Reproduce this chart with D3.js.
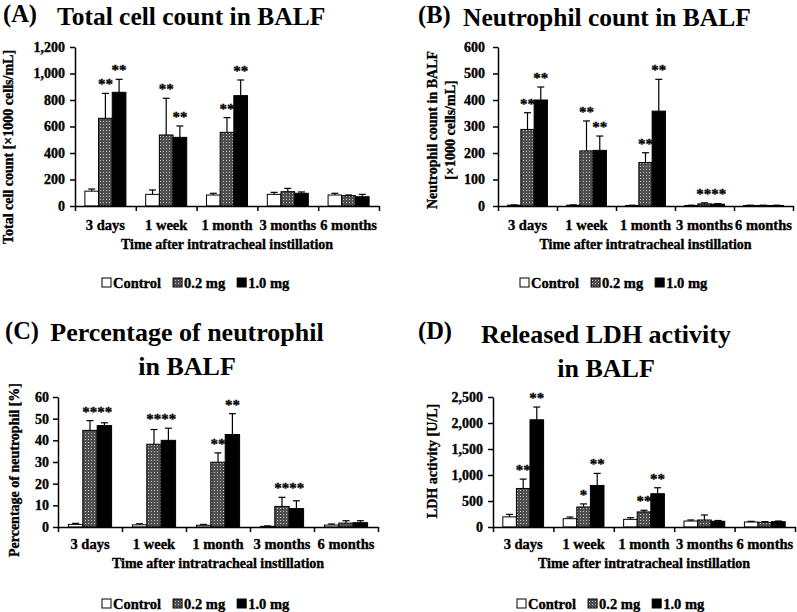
<!DOCTYPE html>
<html><head><meta charset="utf-8">
<script src="https://cdn.jsdelivr.net/npm/d3@7/dist/d3.min.js"></script>
<style>
html,body{margin:0;padding:0;background:#fff;}
svg{display:block;font-family:"Liberation Serif","Times New Roman",serif;font-weight:bold;}
svg text{fill:#000;}
.heavy{stroke:#000;stroke-width:0.35px;}
</style></head>
<body><svg id="chart" width="797" height="612"></svg>
<script>
// ---------- data ----------
const categories = ["3 days", "1 week", "1 month", "3 months", "6 months"];
const seriesNames = ["Control", "0.2 mg", "1.0 mg"];

// (A) Total cell count [x1000 cells/mL]
const totalControl = [112, 88, 83, 88, 83];
const totalControlSD = [16, 33, 13, 15, 13];
const total02 = [662, 536, 556, 108, 78];
const total02SD = [188, 277, 111, 25, 5];
const total10 = [858, 518, 833, 96, 70];
const total10SD = [98, 86, 118, 10, 18];
const totalStars02 = ["**", "**", "**", "", ""];
const totalStars10 = ["**", "**", "**", "", ""];
const totalTicks = [0, 200, 400, 600, 800, 1000, 1200];

// (B) Neutrophil count [x1000 cells/mL]
const neutroControl = [3, 3, 2, 2, 2];
const neutroControlSD = [1, 1, 1, 1, 1];
const neutro02 = [289, 208, 164, 8, 2];
const neutro02SD = [63, 113, 37, 4, 1];
const neutro10 = [400, 210, 358, 7, 2];
const neutro10SD = [49, 54, 120, 2, 1];
const neutroStars02 = ["**", "**", "**", "**", ""];
const neutroStars10 = ["**", "**", "**", "**", ""];
const neutroTicks = [0, 100, 200, 300, 400, 500, 600];

// (C) Percentage of neutrophil [%]
const pctControl = [1.2, 1.0, 0.8, 0.3, 0.9];
const pctControlSD = [0.5, 0.5, 0.4, 0.2, 0.5];
const pct02 = [44.6, 38.2, 29.9, 9.5, 1.8];
const pct02SD = [4.5, 6.8, 4.3, 4.2, 1.1];
const pct10 = [46.8, 40.0, 42.7, 8.5, 2.0];
const pct10SD = [1.3, 5.6, 9.6, 3.6, 0.9];
const pctStars02 = ["**", "**", "**", "**", ""];
const pctStars10 = ["**", "**", "**", "**", ""];
const pctTicks = [0, 10, 20, 30, 40, 50, 60];

// (D) LDH activity [U/L]
const ldhControl = [195, 160, 147, 115, 96];
const ldhControlSD = [48, 32, 32, 20, 13];
const ldh02 = [741, 385, 290, 135, 90];
const ldh02SD = [180, 59, 32, 96, 13];
const ldh10 = [2062, 799, 640, 110, 103];
const ldh10SD = [245, 232, 115, 15, 12];
const ldhStars02 = ["**", "*", "**", "", ""];
const ldhStars10 = ["**", "**", "**", "", ""];
const ldhTicks = [0, 500, 1000, 1500, 2000, 2500];

const xAxisTitle = "Time after intratracheal instillation";

// ---------- layout ----------
const panels = [
  { letter: "(A)", letterX: 3, letterY: 22, titleLines: ["Total cell count in BALF"], titleX: 57, titleAnchor: "start", titleY: 25, titleSize: 25.5,
    yLabel: ["Total cell count [×1000 cells/mL]"], yLabelX: [13], yLabelY: 147,
    x0: 75, x1: 379, yBase: 206, yTop: 47, ticks: totalTicks, tickPad: 5,
    series: [[totalControl, totalControlSD, null], [total02, total02SD, totalStars02], [total10, total10SD, totalStars10]],
    catY: 230, axTitleY: 249, legendX: 102, legendY: 288 },
  { letter: "(B)", letterX: 418, letterY: 23, titleLines: ["Neutrophil count in BALF"], titleX: 463, titleAnchor: "start", titleY: 26, titleSize: 25.5,
    yLabel: ["Neutrophil count in BALF", "[×1000 cells/mL]"], yLabelX: [437, 455], yLabelY: 130,
    x0: 498, x1: 793, yBase: 206, yTop: 47, ticks: neutroTicks, tickPad: 8,
    series: [[neutroControl, neutroControlSD, null], [neutro02, neutro02SD, neutroStars02], [neutro10, neutro10SD, neutroStars10]],
    catY: 230, axTitleY: 249, legendX: 520, legendY: 288 },
  { letter: "(C)", letterX: 5, letterY: 339, titleLines: ["Percentage of neutrophil", "in BALF"], titleX: 187, titleAnchor: "middle", titleY: 341, titleSize: 26,
    yLabel: ["Percentage of neutrophil  [%]"], yLabelX: [19], yLabelY: 470,
    x0: 58, x1: 378, yBase: 527, yTop: 397, ticks: pctTicks, tickPad: 4,
    series: [[pctControl, pctControlSD, null], [pct02, pct02SD, pctStars02], [pct10, pct10SD, pctStars10]],
    catY: 549, axTitleY: 568, legendX: 102, legendY: 609 },
  { letter: "(D)", letterX: 418, letterY: 339, titleLines: ["Released LDH activity", "in BALF"], titleX: 606, titleAnchor: "middle", titleY: 343, titleSize: 26,
    yLabel: ["LDH activity [U/L]"], yLabelX: [437], yLabelY: 461,
    x0: 493, x1: 795, yBase: 527, yTop: 397, ticks: ldhTicks, tickPad: 5,
    series: [[ldhControl, ldhControlSD, null], [ldh02, ldh02SD, ldhStars02], [ldh10, ldh10SD, ldhStars10]],
    catY: 549, axTitleY: 568, legendX: 517, legendY: 609 }
];

const svg = d3.select("#chart");
const defs = svg.append("defs");
const pat = defs.append("pattern").attr("id", "dots").attr("patternUnits", "userSpaceOnUse")
  .attr("width", 3).attr("height", 3);
pat.append("rect").attr("width", 3).attr("height", 3).attr("fill", "#4e4e4e");
pat.append("rect").attr("x", 1).attr("y", 1).attr("width", 1).attr("height", 1).attr("fill", "#c4c4c4");

const fills = ["#ffffff", "url(#dots)", "#000000"];
const STAR_SIZE = 15;

panels.forEach(p => {
  const g = svg.append("g");
  // titles
  g.append("text").attr("x", p.letterX).attr("y", p.letterY).attr("font-size", 24.5).text(p.letter);
  p.titleLines.forEach((t, i) => {
    g.append("text").attr("x", p.titleX).attr("y", p.titleY + i * 34)
      .attr("text-anchor", p.titleAnchor).attr("font-size", p.titleSize).text(t);
  });

  const x = d3.scaleBand().domain(categories).range([p.x0, p.x1]).padding(0);
  const xi = d3.scaleLinear().domain([0, categories.length]).range([p.x0, p.x1]);
  const maxV = p.ticks[p.ticks.length - 1];
  const y = d3.scaleLinear().domain([0, maxV]).range([p.yBase, p.yTop]);
  const bw = x.bandwidth() * 0.225;
  const off = (x.bandwidth() - bw * 3) / 2;
  const cx = (c, si) => x(c) + off + si * bw + bw / 2;

  // bars + error bars
  p.series.forEach((s, si) => {
    const [vals, sds] = s;
    const sg = g.append("g");
    sg.selectAll("line.err").data(categories).join("line").attr("class", "err")
      .attr("x1", c => cx(c, si)).attr("x2", c => cx(c, si))
      .attr("y1", (c, i) => y(vals[i]))
      .attr("y2", (c, i) => y(vals[i] + sds[i]))
      .attr("stroke", "#000").attr("stroke-width", 1.2);
    sg.selectAll("line.cap").data(categories).join("line").attr("class", "cap")
      .attr("x1", c => cx(c, si) - 3.5).attr("x2", c => cx(c, si) + 3.5)
      .attr("y1", (c, i) => y(vals[i] + sds[i]))
      .attr("y2", (c, i) => y(vals[i] + sds[i]))
      .attr("stroke", "#000").attr("stroke-width", 1.2);
    sg.selectAll("rect").data(categories).join("rect")
      .attr("x", c => x(c) + off + si * bw)
      .attr("y", (c, i) => y(vals[i]))
      .attr("width", bw)
      .attr("height", (c, i) => y(0) - y(vals[i]))
      .attr("fill", fills[si]).attr("stroke", "#000").attr("stroke-width", 1);
  });

  // significance stars
  categories.forEach((c, ci) => {
    const marks = [];
    p.series.forEach((s, si) => {
      const [vals, sds, stars] = s;
      if (stars && stars[ci]) marks.push({ si, str: stars[ci], yy: y(vals[ci] + sds[ci]) - 4 });
    });
    if (!marks.length) return;
    if (marks.length === 2 && Math.abs(marks[0].yy - marks[1].yy) < 8) {
      // adjacent bars at nearly the same height: one joined row of stars
      const m = Math.min(marks[0].yy, marks[1].yy);
      g.append("text").attr("class", "heavy").attr("font-size", STAR_SIZE).attr("text-anchor", "middle")
        .attr("x", (cx(c, marks[0].si) + cx(c, marks[1].si)) / 2).attr("y", m)
        .text(marks[0].str + marks[1].str);
    } else {
      marks.forEach(d => {
        g.append("text").attr("class", "heavy").attr("font-size", STAR_SIZE).attr("text-anchor", "middle")
          .attr("x", cx(c, d.si)).attr("y", d.yy).text(d.str);
      });
    }
  });

  // y axis
  const ya = g.append("g").attr("transform", `translate(${p.x0},0)`)
    .call(d3.axisLeft(y).tickValues(p.ticks).tickSize(5).tickSizeOuter(0).tickPadding(p.tickPad).tickFormat(d3.format(",")));
  ya.selectAll("text").attr("font-size", 14).attr("font-family", "Liberation Serif").attr("font-weight", "bold").attr("class", "heavy");
  ya.selectAll("line,path").attr("stroke", "#000").attr("stroke-width", 1.5);

  // x axis
  const xa = g.append("g").attr("transform", `translate(0,${p.yBase})`)
    .call(d3.axisBottom(xi).tickValues(d3.range(categories.length + 1)).tickSize(5).tickSizeOuter(0).tickFormat(""));
  xa.selectAll("line,path").attr("stroke", "#000").attr("stroke-width", 1.5);

  // category labels
  g.selectAll("text.cat").data(categories).join("text").attr("class", "cat heavy")
    .attr("x", c => x(c) + x.bandwidth() / 2).attr("y", p.catY)
    .attr("text-anchor", "middle").attr("font-size", 14.5).text(c => c);

  // x axis title
  g.append("text").attr("class", "heavy").attr("x", (p.x0 + p.x1) / 2).attr("y", p.axTitleY)
    .attr("text-anchor", "middle").attr("font-size", 14).text(xAxisTitle);

  // y label
  p.yLabel.forEach((t, i) => {
    g.append("text").attr("class", "heavy").attr("transform", `translate(${p.yLabelX[i]},${p.yLabelY}) rotate(-90)`)
      .attr("text-anchor", "middle").attr("font-size", 14).text(t);
  });

  // legend
  let lx = p.legendX;
  seriesNames.forEach((n, si) => {
    g.append("rect").attr("x", lx).attr("y", p.legendY - 10).attr("width", 9).attr("height", 9)
      .attr("fill", fills[si]).attr("stroke", "#000").attr("stroke-width", 1);
    const t = g.append("text").attr("class", "heavy").attr("x", lx + 11).attr("y", p.legendY).attr("font-size", 14.5).text(n);
    lx += 11 + t.node().getComputedTextLength() + 12;
  });
});
</script></body></html>
